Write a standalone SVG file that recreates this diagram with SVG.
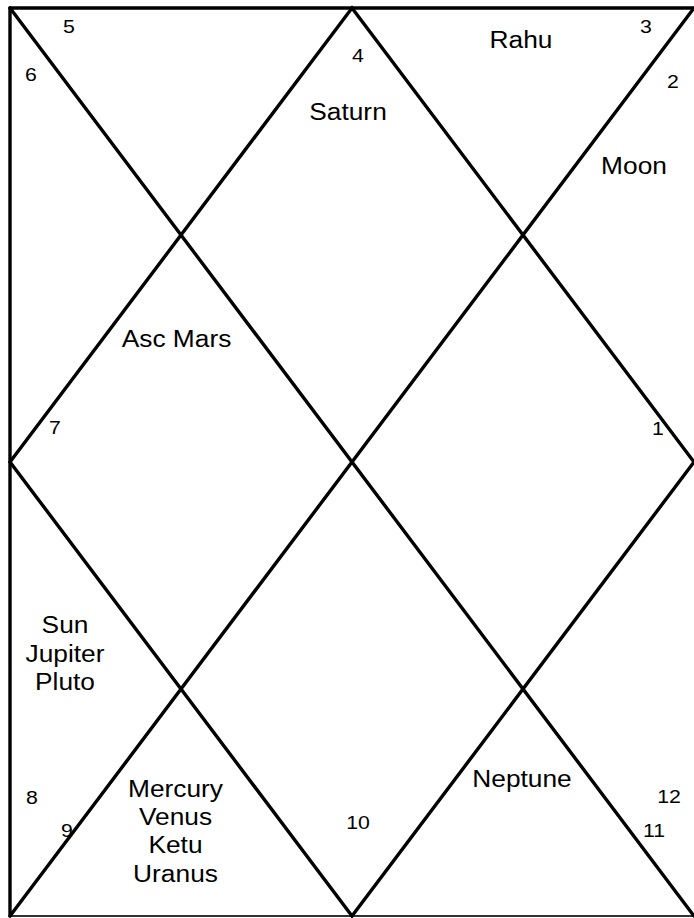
<svg xmlns="http://www.w3.org/2000/svg" width="694" height="918" viewBox="0 0 694 918">
<style>
.ln{stroke:#000;stroke-width:3.4;fill:none;stroke-linecap:round}
.pl{font-family:"Liberation Sans",Arial,sans-serif;font-size:23.5px;fill:#000;text-anchor:middle}
.nm{font-family:"Liberation Sans",Arial,sans-serif;font-size:19px;fill:#000;text-anchor:middle}
</style>
<rect width="694" height="918" fill="#fff"/>
<g id="connectors">
<line class="ln" x1="10" y1="8" x2="693" y2="8"/>
<line class="ln" x1="10" y1="8" x2="10" y2="916"/>
<line x1="10" y1="916" x2="694" y2="916" stroke="#333" stroke-width="2"/>
<line class="ln" x1="10" y1="8" x2="694" y2="916"/>
<line class="ln" x1="694" y1="8" x2="10" y2="916"/>
<polygon class="ln" points="352,8 694,462 352,916 10,462" stroke-linejoin="miter"/>
</g>
<g id="h1"><text class="nm" transform="translate(658,435) scale(1.12,1)">1</text></g>
<g id="h2"><text class="nm" transform="translate(673,88) scale(1.12,1)">2</text><text class="pl" transform="translate(634,174) scale(1.12,1)">Moon</text></g>
<g id="h3"><text class="nm" transform="translate(646,33) scale(1.12,1)">3</text><text class="pl" transform="translate(521,48) scale(1.12,1)">Rahu</text></g>
<g id="h4"><text class="nm" transform="translate(358,62) scale(1.12,1)">4</text><text class="pl" transform="translate(348,120) scale(1.12,1)">Saturn</text></g>
<g id="h5"><text class="nm" transform="translate(69,33) scale(1.12,1)">5</text></g>
<g id="h6"><text class="nm" transform="translate(31,81) scale(1.12,1)">6</text></g>
<g id="h7"><text class="nm" transform="translate(55,434) scale(1.12,1)">7</text><text class="pl" transform="translate(176.5,347) scale(1.12,1)">Asc Mars</text></g>
<g id="h8"><text class="nm" transform="translate(32,804) scale(1.12,1)">8</text><text class="pl" transform="translate(65,633) scale(1.12,1)">Sun</text><text class="pl" transform="translate(65,662) scale(1.12,1)">Jupiter</text><text class="pl" transform="translate(65,690) scale(1.12,1)">Pluto</text></g>
<g id="h9"><text class="nm" transform="translate(67,837) scale(1.12,1)">9</text><text class="pl" transform="translate(175.5,797) scale(1.12,1)">Mercury</text><text class="pl" transform="translate(175.5,825) scale(1.12,1)">Venus</text><text class="pl" transform="translate(175.5,853) scale(1.12,1)">Ketu</text><text class="pl" transform="translate(175.5,882) scale(1.12,1)">Uranus</text></g>
<g id="h10"><text class="nm" transform="translate(358,829) scale(1.12,1)">10</text></g>
<g id="h11"><text class="nm" transform="translate(654,837) scale(1.12,1)">11</text><text class="pl" transform="translate(522,787) scale(1.12,1)">Neptune</text></g>
<g id="h12"><text class="nm" transform="translate(669,803) scale(1.12,1)">12</text></g>
</svg>
